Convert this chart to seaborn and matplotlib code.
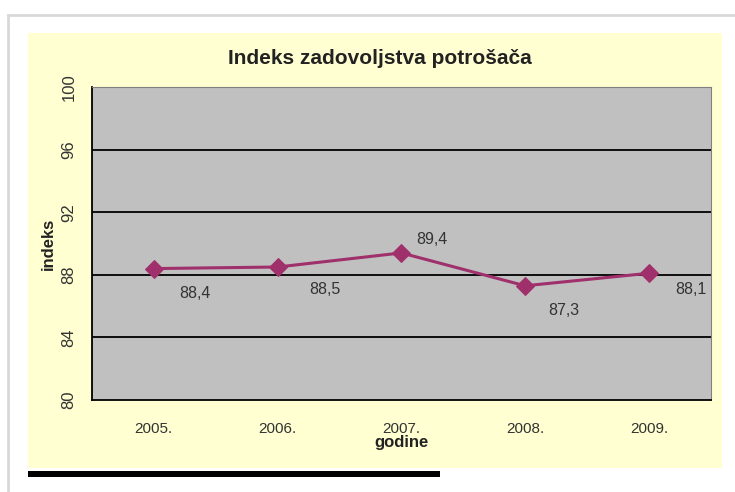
import numpy as np
import pandas as pd
import seaborn as sns
import matplotlib.pyplot as plt
from matplotlib.patches import Rectangle

godine = ["2005.", "2006.", "2007.", "2008.", "2009."]
indeks = [88.4, 88.5, 89.4, 87.3, 88.1]
oznake = ["88,4", "88,5", "89,4", "87,3", "88,1"]

df = pd.DataFrame({"godine": godine, "indeks": indeks})

sns.set_style("white")
plt.rcParams["font.family"] = ["Liberation Sans", "DejaVu Sans"]

fig = plt.figure(figsize=(7.35, 4.92), dpi=100)
fig.patch.set_facecolor("white")

# okvir i žuta pozadina grafikona
fig.patches.append(Rectangle((0.011, -0.05), 1.2, 1.02, transform=fig.transFigure,
                             facecolor="white", edgecolor="#d8d8d8", lw=2, zorder=-3))
fig.patches.append(Rectangle((0.038, 0.049), 0.944, 0.884, transform=fig.transFigure,
                             facecolor="#FFFFD2", edgecolor="none", zorder=-2))
fig.patches.append(Rectangle((0.038, 0.031), 0.561, 0.012, transform=fig.transFigure,
                             facecolor="black", edgecolor="none", zorder=-2))

ax = fig.add_axes([0.125, 0.187, 0.842, 0.636])
ax.set_zorder(2)
ax.set_facecolor("#C0C0C0")

sns.lineplot(data=df, x="godine", y="indeks", ax=ax, color="#A0306C",
             marker="D", markersize=9, markeredgecolor="#A0306C", lw=2.2, sort=False)

ax.set_ylim(80, 100)
ax.set_xlim(-0.5, 4.5)
ax.set_yticks([80, 84, 88, 92, 96, 100])
ax.set_yticklabels(["80", "84", "88", "92", "96", "100"], rotation=90, va="center",
                   fontsize=12, color="#333333")
ax.set_xticks(range(5))
ax.set_xticklabels(godine, fontsize=11, color="#333333")
ax.set_xticks(np.arange(-0.5, 5, 1), minor=True)
ax.tick_params(axis="x", which="major", length=0, pad=16)
ax.tick_params(axis="x", which="minor", length=5, width=1.2, color="black", direction="out")
ax.tick_params(axis="y", length=6, width=1.2, color="black", direction="out", pad=5)
ax.grid(False)
for y in [84, 88, 92, 96]:
    ax.axhline(y, color="black", lw=1.3, zorder=1)

ax.spines["left"].set_color("black")
ax.spines["bottom"].set_color("black")
ax.spines["left"].set_linewidth(1.3)
ax.spines["bottom"].set_linewidth(1.3)
ax.spines["top"].set_color("#808080")
ax.spines["right"].set_color("#808080")

pomaci = [(30, -18), (34, -16), (22, 10), (28, -18), (30, -12)]
for i, (v, t) in enumerate(zip(indeks, oznake)):
    ax.annotate(t, (i, v), xytext=pomaci[i], textcoords="offset points",
                ha="center", va="center", fontsize=11.5, color="#333333")

ax.set_xlabel("godine", fontsize=12, fontweight="bold", color="#222222", labelpad=-1)
ax.set_ylabel("indeks", fontsize=12, fontweight="bold", color="#222222", labelpad=4)
fig.text(0.517, 0.882, "Indeks zadovoljstva potrošača", ha="center", va="center",
         fontsize=15, fontweight="bold", color="#222222")

fig.savefig("out.png", dpi=100)
